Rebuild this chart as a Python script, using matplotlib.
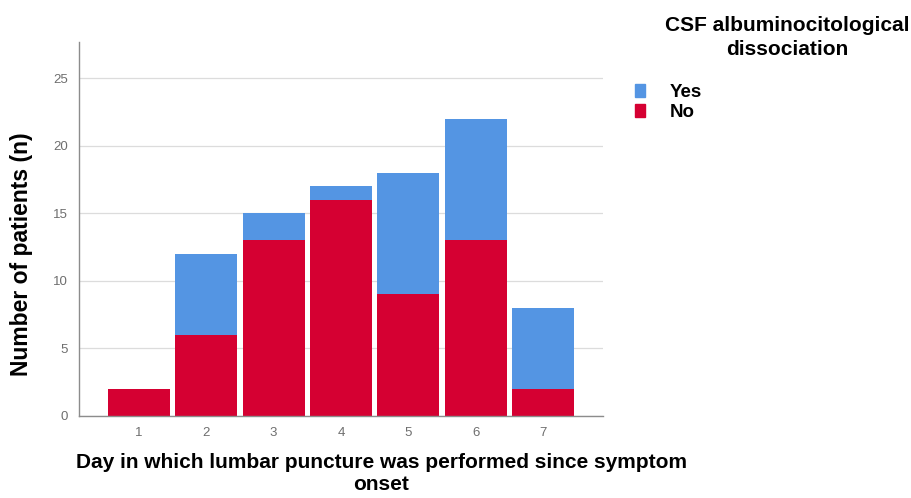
import matplotlib

matplotlib.use("Agg")

import matplotlib.pyplot as plt  # noqa: E402
from matplotlib.patches import Patch  # noqa: E402

plt.rcParams["font.family"] = ["Liberation Sans", "DejaVu Sans"]

DAYS = [1, 2, 3, 4, 5, 6, 7]
NO = [2, 6, 13, 16, 9, 13, 2]
YES = [0, 6, 2, 1, 9, 9, 6]

BLUE = "#5495e3"
RED = "#d50032"
GRID = "#dcdcdc"
TICK = "#6e6e6e"

fig = plt.figure(figsize=(9.12, 4.98), dpi=100)
ax = fig.add_axes([0.0866, 0.1647, 0.5745, 0.751])

ax.bar(DAYS, NO, width=0.92, color=RED, zorder=2)
ax.bar(DAYS, YES, width=0.92, bottom=NO, color=BLUE, zorder=2)

ax.set_xlim(0.11, 7.89)
ax.set_ylim(0, 27.7)
ax.set_xticks(DAYS)
ax.set_yticks(range(0, 26, 5))
ax.tick_params(length=0, colors=TICK, labelsize=9.5)
ax.tick_params(axis="y", pad=8)
ax.tick_params(axis="x", pad=8)
ax.grid(axis="y", color=GRID, linewidth=0.9, zorder=0)
for side in ["top", "right"]:
    ax.spines[side].set_visible(False)
for side in ["left", "bottom"]:
    ax.spines[side].set_color("#8c8c8c")
    ax.spines[side].set_linewidth(1.0)

fig.text(0.024, 0.49, "Number of patients (n)", rotation=90, fontsize=16.5,
         fontweight="bold", ha="center", va="center")
fig.text(0.418, 0.049, "Day in which lumbar puncture was performed since symptom\nonset",
         fontsize=15, fontweight="bold", ha="center", va="center", linespacing=1.25)

fig.text(0.863, 0.925, "CSF albuminocitological\ndissociation", fontsize=15,
         fontweight="bold", ha="center", va="center", linespacing=1.3)

handles = [Patch(color=BLUE), Patch(color=RED)]
fig.legend(handles, ["Yes", "No"], loc="upper left",
           bbox_to_anchor=(0.682, 0.858), frameon=False,
           prop={"weight": "bold", "size": 13.5},
           handlelength=0.55, handleheight=0.7, handletextpad=1.3,
           labelspacing=0.15, borderpad=0.2)

fig.savefig("out.png", facecolor="white")
